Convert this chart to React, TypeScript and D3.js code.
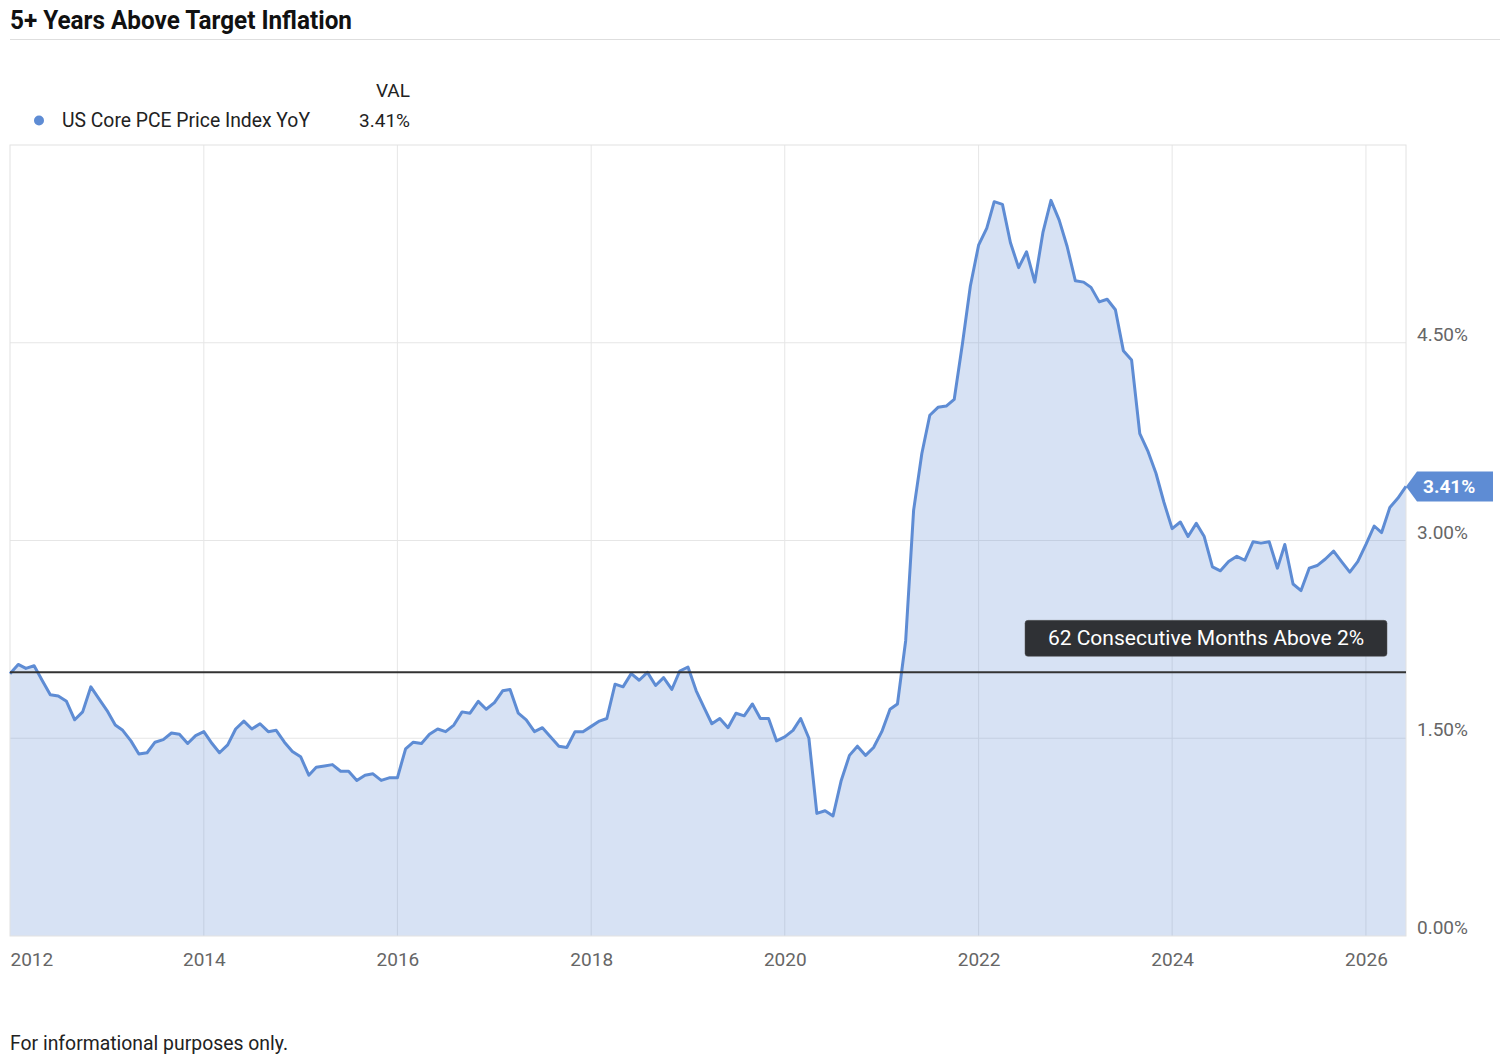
import React, { useEffect, useRef } from 'react';
import * as d3 from 'd3';

const chartTitle = '5+ Years Above Target Inflation';
const seriesName = 'US Core PCE Price Index YoY';
const footerText = 'For informational purposes only.';
const annotationText = '62 Consecutive Months Above 2%';
const targetRate = 2;

// monthly readings (%), starting Jan 2012
const startYear = 2012;
const coreYoY = [
    1.99, 2.06, 2.03, 2.05, 1.94, 1.83, 1.82, 1.78, 1.64, 1.70, 1.89, 1.80, // 2012
    1.71, 1.60, 1.56, 1.48, 1.38, 1.39, 1.47, 1.49, 1.54, 1.53, 1.46, 1.52, // 2013
    1.55, 1.46, 1.39, 1.45, 1.57, 1.63, 1.57, 1.61, 1.55, 1.56, 1.47, 1.40, // 2014
    1.36, 1.22, 1.28, 1.29, 1.30, 1.25, 1.25, 1.18, 1.22, 1.23, 1.18, 1.20, // 2015
    1.20, 1.42, 1.47, 1.46, 1.53, 1.57, 1.55, 1.60, 1.70, 1.69, 1.78, 1.72, // 2016
    1.77, 1.86, 1.87, 1.69, 1.64, 1.55, 1.58, 1.51, 1.44, 1.43, 1.55, 1.55, // 2017
    1.59, 1.63, 1.65, 1.91, 1.89, 1.99, 1.94, 2.00, 1.90, 1.96, 1.87, 2.01, // 2018
    2.04, 1.86, 1.74, 1.61, 1.65, 1.58, 1.69, 1.67, 1.76, 1.65, 1.65, 1.48, // 2019
    1.51, 1.56, 1.65, 1.50, 0.93, 0.95, 0.91, 1.18, 1.37, 1.44, 1.37, 1.43, // 2020
    1.55, 1.72, 1.76, 2.24, 3.23, 3.66, 3.95, 4.01, 4.02, 4.07, 4.49, 4.93, // 2021
    5.24, 5.37, 5.57, 5.55, 5.26, 5.07, 5.19, 4.96, 5.34, 5.58, 5.43, 5.23, // 2022
    4.97, 4.96, 4.92, 4.81, 4.83, 4.75, 4.44, 4.37, 3.81, 3.68, 3.51, 3.29, // 2023
    3.09, 3.14, 3.03, 3.13, 3.03, 2.80, 2.77, 2.84, 2.88, 2.85, 2.99, 2.98, // 2024
    2.99, 2.79, 2.97, 2.67, 2.62, 2.79, 2.81, 2.86, 2.92, 2.84, 2.76, 2.84, // 2025
    2.97, 3.11, 3.06, 3.25, 3.32, 3.41                                      // 2026
];

const xTickYears = [2012, 2014, 2016, 2018, 2020, 2022, 2024, 2026];
const yTicks = [0, 1.5, 3, 4.5];

const App: React.FC = () => {
    const svgRef = useRef<SVGSVGElement>(null);

    useEffect(() => {
        if (!svgRef.current) return;
        document.body.style.margin = '0';

        const width = 1500;
        const height = 1062;
        const plot = { left: 10, right: 1406, top: 145, bottom: 936 };
        const blue = '#5e8cd4';
        const font = 'Roboto, "Noto Sans", sans-serif';

        const svg = d3.select(svgRef.current);
        svg.selectAll('*').remove();
        svg.attr('width', width)
            .attr('height', height)
            .attr('viewBox', `0 0 ${width} ${height}`)
            .style('font-family', font)
            .style('display', 'block');

        svg.append('rect').attr('width', width).attr('height', height).attr('fill', '#fff');

        const data = coreYoY.map((v, i) => ({ date: new Date(startYear, i, 1), value: v }));
        const last = data[data.length - 1];

        const x = d3.scaleTime()
            .domain([data[0].date, last.date])
            .range([plot.left, plot.right]);

        const y = d3.scaleLinear()
            .domain([0, 6])
            .range([plot.bottom, plot.top]);

        // title + rule
        svg.append('text')
            .attr('x', 10)
            .attr('y', 29)
            .attr('font-size', 25)
            .attr('font-weight', 'bold')
            .attr('fill', '#111')
            .attr('textLength', 342)
            .attr('lengthAdjust', 'spacingAndGlyphs')
            .text(chartTitle);

        svg.append('line')
            .attr('x1', 10).attr('x2', width)
            .attr('y1', 39.5).attr('y2', 39.5)
            .attr('stroke', '#dedede');

        // legend
        svg.append('text')
            .attr('x', 410).attr('y', 97)
            .attr('text-anchor', 'end')
            .attr('font-size', 19)
            .attr('fill', '#222')
            .text('VAL');
        svg.append('circle')
            .attr('cx', 39).attr('cy', 120.5).attr('r', 5)
            .attr('fill', blue);
        svg.append('text')
            .attr('x', 62).attr('y', 127)
            .attr('font-size', 20)
            .attr('fill', '#222')
            .attr('textLength', 248)
            .attr('lengthAdjust', 'spacingAndGlyphs')
            .text(seriesName);
        svg.append('text')
            .attr('x', 410).attr('y', 127)
            .attr('text-anchor', 'end')
            .attr('font-size', 19)
            .attr('fill', '#222')
            .text(`${last.value.toFixed(2)}%`);

        // gridlines
        const grid = svg.append('g').attr('stroke', '#e6e6e6').attr('stroke-width', 1);
        grid.selectAll('.vgrid')
            .data(xTickYears.slice(1))
            .enter()
            .append('line')
            .attr('x1', d => x(new Date(d, 0, 1)))
            .attr('x2', d => x(new Date(d, 0, 1)))
            .attr('y1', plot.top)
            .attr('y2', plot.bottom);
        grid.selectAll('.hgrid')
            .data(yTicks.slice(1))
            .enter()
            .append('line')
            .attr('x1', plot.left)
            .attr('x2', plot.right)
            .attr('y1', d => y(d))
            .attr('y2', d => y(d));

        // area + line
        const area = d3.area<{ date: Date; value: number }>()
            .x(d => x(d.date))
            .y0(y(0))
            .y1(d => y(d.value));
        const line = d3.line<{ date: Date; value: number }>()
            .x(d => x(d.date))
            .y(d => y(d.value));

        svg.append('path')
            .datum(data)
            .attr('d', area)
            .attr('fill', blue)
            .attr('fill-opacity', 0.25);

        svg.append('rect')
            .attr('x', plot.left).attr('y', plot.top)
            .attr('width', plot.right - plot.left)
            .attr('height', plot.bottom - plot.top)
            .attr('fill', 'none')
            .attr('stroke', '#e2e2e2');

        svg.append('path')
            .datum(data)
            .attr('d', line)
            .attr('fill', 'none')
            .attr('stroke', blue)
            .attr('stroke-width', 3)
            .attr('stroke-linejoin', 'round');

        // 2% target line
        svg.append('line')
            .attr('x1', plot.left).attr('x2', plot.right)
            .attr('y1', y(targetRate)).attr('y2', y(targetRate))
            .attr('stroke', '#333')
            .attr('stroke-width', 2);

        // annotation box
        const boxW = 362, boxH = 36;
        const boxX = plot.right - 19 - boxW;
        const boxY = y(targetRate) - 16 - boxH;
        svg.append('rect')
            .attr('x', boxX).attr('y', boxY)
            .attr('width', boxW).attr('height', boxH)
            .attr('rx', 3)
            .attr('fill', '#2f3135')
            .attr('stroke', '#555')
            .attr('stroke-width', 0.5);
        svg.append('text')
            .attr('x', boxX + boxW / 2)
            .attr('y', boxY + 25)
            .attr('text-anchor', 'middle')
            .attr('font-size', 21)
            .attr('fill', '#fff')
            .text(annotationText);

        // x axis
        const xAxis = svg.append('g')
            .attr('transform', `translate(0, ${plot.bottom})`)
            .call(d3.axisBottom(x)
                .tickValues(xTickYears.map(yr => new Date(yr, 0, 1)))
                .tickFormat(d => d3.timeFormat('%Y')(d as Date))
                .tickSize(0)
                .tickPadding(16.5));
        xAxis.select('.domain').remove();
        xAxis.selectAll('text')
            .attr('font-size', 19)
            .attr('font-family', font)
            .attr('fill', '#666');
        xAxis.selectAll('text').filter((_, i) => i === 0).attr('text-anchor', 'start');

        // y axis on the right
        const yAxis = svg.append('g')
            .attr('transform', `translate(${plot.right}, 0)`)
            .call(d3.axisRight(y)
                .tickValues(yTicks)
                .tickFormat(d => `${(d as number).toFixed(2)}%`)
                .tickSize(0)
                .tickPadding(11));
        yAxis.select('.domain').remove();
        yAxis.selectAll('text')
            .attr('font-size', 19)
            .attr('font-family', font)
            .attr('fill', '#666')
            .attr('dy', '-0.12em');

        // last value tag
        const ly = y(last.value);
        const tagX = plot.right;
        svg.append('path')
            .attr('d', `M${tagX},${ly} L${tagX + 11},${ly - 15} L${tagX + 87},${ly - 15} L${tagX + 87},${ly + 15} L${tagX + 11},${ly + 15} Z`)
            .attr('fill', blue);
        svg.append('text')
            .attr('x', tagX + 17)
            .attr('y', ly + 7)
            .attr('font-size', 19)
            .attr('font-weight', 'bold')
            .attr('fill', '#fff')
            .text(`${last.value.toFixed(2)}%`);

        // footer
        svg.append('text')
            .attr('x', 10)
            .attr('y', 1050)
            .attr('font-size', 20)
            .attr('fill', '#222')
            .attr('textLength', 278)
            .attr('lengthAdjust', 'spacingAndGlyphs')
            .text(footerText);
    }, []);

    return <svg ref={svgRef}></svg>;
};

export default App;
